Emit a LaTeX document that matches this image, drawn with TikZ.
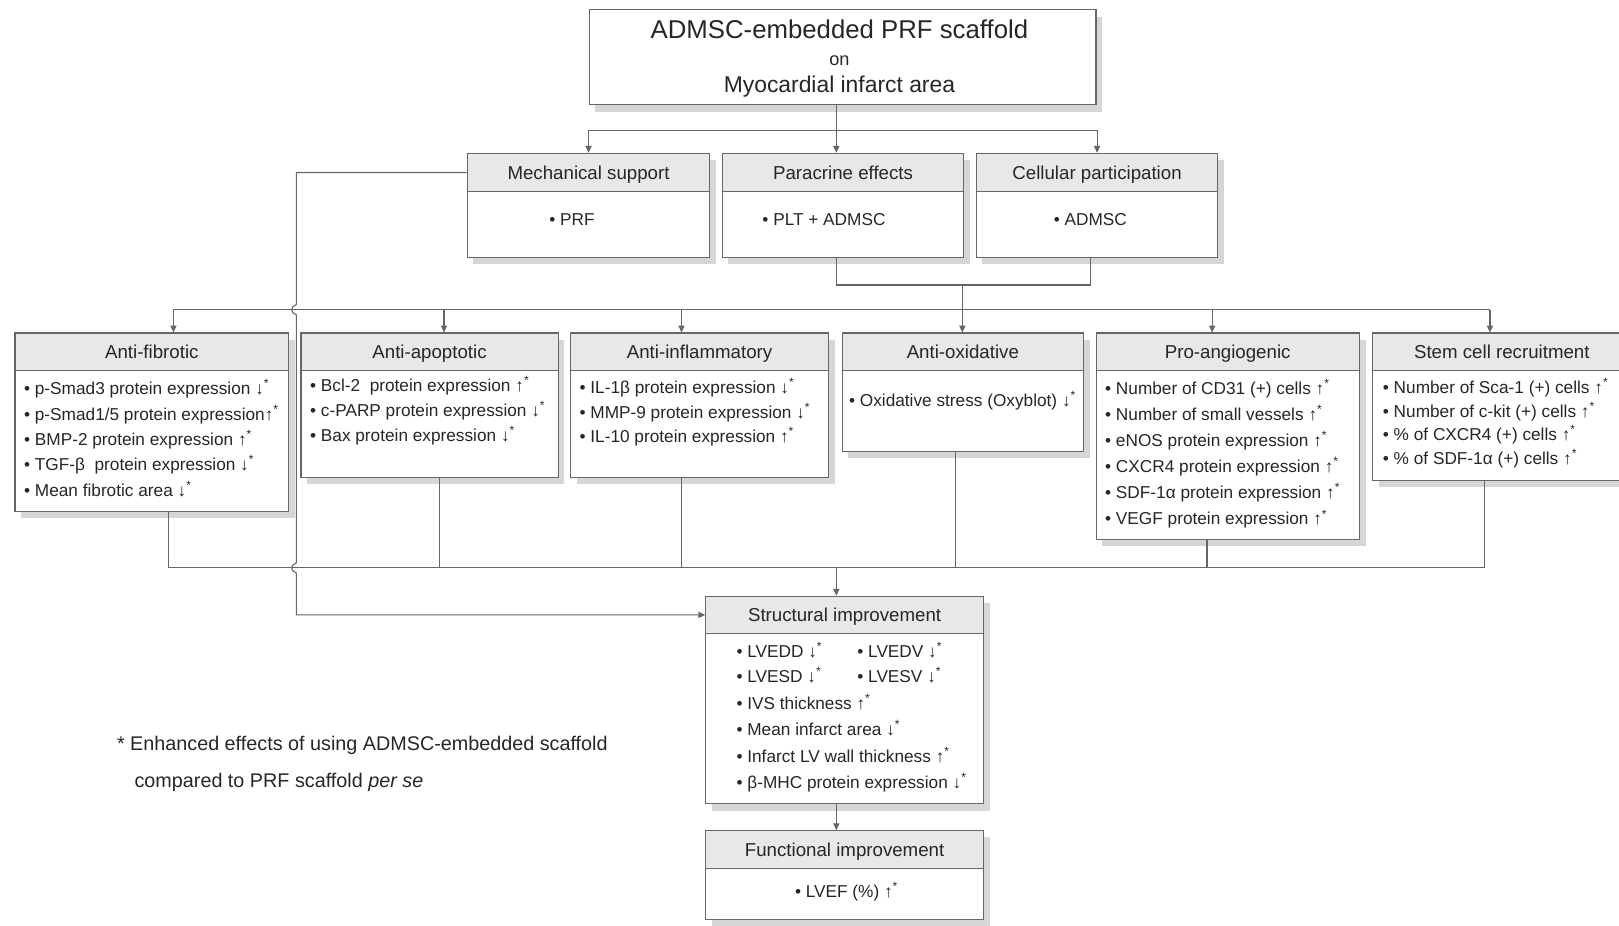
\documentclass[tikz,border=0pt]{standalone}
\usepackage{fontspec}
\setmainfont{Liberation Sans}
\usetikzlibrary{arrows.meta,shadows}

\newcommand{\upmark}{\textbf{↑}\textsuperscript{*}}
\newcommand{\downmark}{\textbf{↓}\textsuperscript{*}}

\tikzset{
  panel/.style={draw=black!60, fill=white, line width=0.6pt, anchor=north west,
    inner sep=0pt, drop shadow={shadow xshift=1.2mm, shadow yshift=-1.3mm, fill=black!16, opacity=1}},
  band/.style={draw=black!60, fill=black!9, line width=0.6pt, anchor=north west,
    inner sep=0pt, text=black!85, text height=9.7pt, text depth=2.2pt,
    font=\fontsize{10.3}{12}\selectfont},
  item/.style={anchor=west, inner sep=0pt, text=black!85, text height=7pt, text depth=2pt,
    font=\fontsize{9.5}{12}\selectfont},
  note/.style={anchor=west, inner sep=0pt, text=black!85, font=\fontsize{10.9}{13}\selectfont},
  link/.style={draw=black!60, line width=0.6pt},
  arr/.style={link, -{Triangle[length=3.8pt, width=3.4pt]}},
}

\begin{document}
\begin{tikzpicture}[x=0.02cm, y=-0.02cm]
\useasboundingbox (0,0) rectangle (1568,896);
\clip (0,0) rectangle (1568,896);

% top box
\node[panel, minimum width=98.2mm, minimum height=18.4mm] (top) at (570,9) {};
\node[align=center, text=black!85, font=\fontsize{12.6}{14.8}\selectfont] (toptext) at (813,57)
  {{\fontsize{14.2}{14.8}\selectfont ADMSC-embedded PRF scaffold}\\{\fontsize{10}{14.8}\selectfont on}\\Myocardial infarct area};

% second row
\node[panel, minimum width=47mm, minimum height=20.2mm] (mech) at (452,148) {};
\node[band, minimum width=47mm, minimum height=7.4mm] (mechh) at (mech.north west) {Mechanical support};
\node[item, anchor=center] (mechb) at (554,214) {•\ PRF};

\node[panel, minimum width=46.8mm, minimum height=20.2mm] (para) at (699,148) {};
\node[band, minimum width=46.8mm, minimum height=7.4mm] (parah) at (para.north west) {Paracrine effects};
\node[item, anchor=center] (parab) at (798,214) {•\ PLT + ADMSC};

\node[panel, minimum width=46.8mm, minimum height=20.2mm] (cell) at (945,148) {};
\node[band, minimum width=46.8mm, minimum height=7.4mm] (cellh) at (cell.north west) {Cellular participation};
\node[item, anchor=center] (cellb) at (1056,214) {•\ ADMSC};

% third row
\node[panel, minimum width=53mm, minimum height=34.6mm] (fib) at (14,322) {};
\node[band, minimum width=53mm, minimum height=7.2mm] (fibh) at (fib.north west) {Anti-fibrotic};
\foreach \t [count=\i] in {{p-Smad3 protein expression \downmark},
    {p-Smad1/5 protein expression\upmark}, {BMP-2 protein expression \upmark},
    {TGF-β\ \ protein expression \downmark}, {Mean fibrotic area \downmark}}
  \node[item] (fib-\i) at (23, {378+24.5*(\i-1)}) {•\ \t};

\node[panel, minimum width=49.8mm, minimum height=28mm] (apo) at (291,322) {};
\node[band, minimum width=49.8mm, minimum height=7.2mm] (apoh) at (apo.north west) {Anti-apoptotic};
\foreach \t [count=\i] in {{Bcl-2\ \ protein expression \upmark},
    {c-PARP protein expression \downmark}, {Bax protein expression \downmark}}
  \node[item] (apo-\i) at (300, {375+24*(\i-1)}) {•\ \t};

\node[panel, minimum width=50mm, minimum height=28mm] (infl) at (552,322) {};
\node[band, minimum width=50mm, minimum height=7.2mm] (inflh) at (infl.north west) {Anti-inflammatory};
\foreach \t [count=\i] in {{IL-1β protein expression \downmark},
    {MMP-9 protein expression \downmark}, {IL-10 protein expression \upmark}}
  \node[item] (infl-\i) at (561, {377+23.5*(\i-1)}) {•\ \t};

\node[panel, minimum width=46.8mm, minimum height=23mm] (oxi) at (815,322) {};
\node[band, minimum width=46.8mm, minimum height=7.2mm] (oxih) at (oxi.north west) {Anti-oxidative};
\node[item] (oxi-1) at (822,389) {•\ Oxidative stress (Oxyblot) \downmark};

\node[panel, minimum width=51mm, minimum height=40mm] (ang) at (1061,322) {};
\node[band, minimum width=51mm, minimum height=7.2mm] (angh) at (ang.north west) {Pro-angiogenic};
\foreach \t [count=\i] in {{Number of CD31 (+) cells \upmark},
    {Number of small vessels \upmark}, {eNOS protein expression \upmark},
    {CXCR4 protein expression \upmark}, {SDF-1α protein expression \upmark},
    {VEGF protein expression \upmark}}
  \node[item] (ang-\i) at (1070, {378+25.2*(\i-1)}) {•\ \t};

\node[panel, minimum width=50mm, minimum height=28.6mm] (stem) at (1329,322) {};
\node[band, minimum width=50mm, minimum height=7.2mm] (stemh) at (stem.north west) {Stem cell recruitment};
\foreach \t [count=\i] in {{Number of Sca-1 (+) cells \upmark},
    {Number of c-kit (+) cells \upmark}, {\% of CXCR4 (+) cells \upmark},
    {\% of SDF-1α (+) cells \upmark}}
  \node[item] (stem-\i) at (1339, {377+22.7*(\i-1)}) {•\ \t};

% outcome boxes
\node[panel, minimum width=53.8mm, minimum height=40.2mm] (struct) at (683,577) {};
\node[band, minimum width=53.8mm, minimum height=7.2mm] (structh) at (struct.north west) {Structural improvement};
\node[item] (st-1) at (713,632) {•\ LVEDD \downmark};
\node[item] (st-2) at (830,632) {•\ LVEDV \downmark};
\node[item] (st-3) at (713,657) {•\ LVESD \downmark};
\node[item] (st-4) at (830,657) {•\ LVESV \downmark};
\foreach \t [count=\i from 5] in {{IVS thickness \upmark}, {Mean infarct area \downmark},
    {Infarct LV wall thickness \upmark}, {β-MHC protein expression \downmark}}
  \node[item] (st-\i) at (713, {683+25.3*(\i-5)}) {•\ \t};

\node[panel, minimum width=53.8mm, minimum height=17.2mm] (func) at (683,804) {};
\node[band, minimum width=53.8mm, minimum height=7.4mm] (funch) at (func.north west) {Functional improvement};
\node[item, anchor=center] (funcb) at (820,865) {•\ LVEF (\%) \upmark};

% connectors
\coordinate (sp) at (810,126);
\draw[link] (sp |- top.south) -- (sp);
\draw[link] (mech.north |- sp) -- (cell.north |- sp);
\draw[arr] (sp) -- (sp |- para.north);
\draw[arr] (mech.north |- sp) -- (mech.north);
\draw[arr] (cell.north |- sp) -- (cell.north);

\coordinate (pj) at (932,276);
\coordinate (ub) at (932,300);
\coordinate (cj) at (1056,276);
\draw[link] (sp |- para.south) |- (pj) -- (cj) -- (cj |- cell.south);
\draw[link] (pj) -- (ub);
\draw[link] (168,300) -- (1443,300);
\foreach \x/\n in {168/fib,430/apo,660/infl,932/oxi,1174/ang,1443/stem}
  \draw[arr] (\x,300) -- (\x,300 |- \n.north);

\foreach \x/\n in {163/fib,426/apo,660/infl,925/oxi,1169/ang,1438/stem}
  \draw[link] (\x,550 |- \n.south) -- (\x,550);
\draw[link] (163,550) -- (1438,550);
\draw[arr] (810,550) -- (810,550 |- struct.north);
\draw[arr] (810,550 |- struct.south) -- (810,550 |- func.north);

% mechanical support goes straight to the structural box
\coordinate (mv) at (287,300);
\draw[arr] (mechh.west) -- (mechh.west -| mv) -- (287,295) .. controls (281,297) and (281,303) .. (287,305)
  -- (287,545) .. controls (281,547) and (281,553) .. (287,555) -- (mv |- structh.west) -- (structh.west);

% footnote
\node[note] (note1) at (113,722) {* Enhanced effects of using ADMSC-embedded scaffold};
\node[note] (note2) at (130,758) {compared to PRF scaffold \textit{per se}};

\end{tikzpicture}
\end{document}
